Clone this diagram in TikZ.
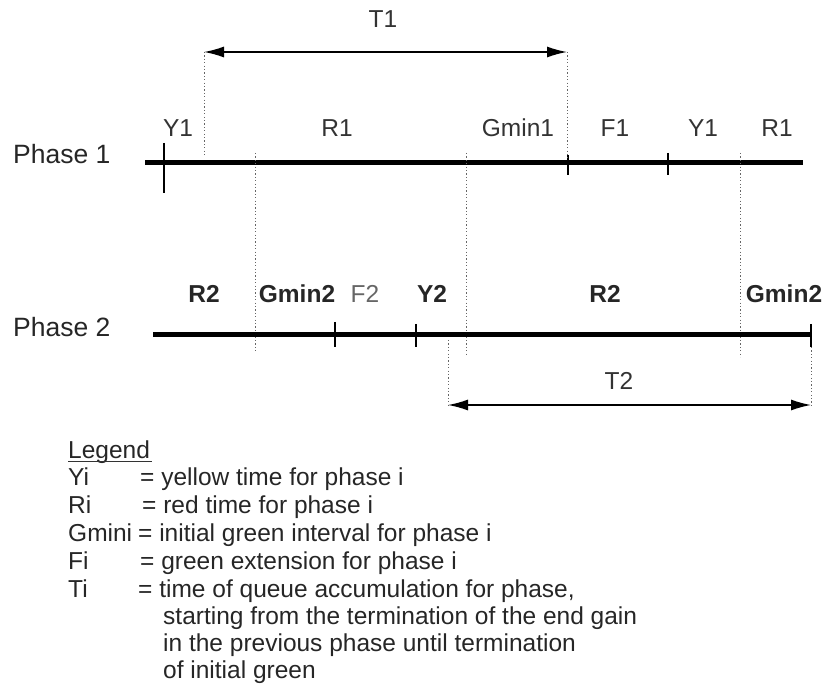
\documentclass[tikz,border=0pt]{standalone}
\usepackage{fontspec}
\setmainfont{Liberation Sans}
\usetikzlibrary{arrows.meta}
\begin{document}
\begin{tikzpicture}[x=1pt,y=-1pt,
  lbl/.style={font=\fontsize{24.5}{28}\selectfont, inner sep=0pt, anchor=base, text=black!80},
  blbl/.style={lbl, font=\fontsize{24.5}{28}\selectfont\bfseries, text=black!85},
  phase/.style={font=\fontsize{26.5}{30}\selectfont, inner sep=0pt, anchor=base west, text=black!85},
  leg/.style={font=\fontsize{24.5}{28}\selectfont, inner sep=0pt, anchor=base west, text=black!85},
  axis/.style={line width=5pt, black},
  tick/.style={line width=1.6pt, black},
  guide/.style={line width=1pt, black!60, dash pattern=on 1.2pt off 2.2pt},
  uline/.style={line width=1.2pt, black!80},
  span/.style={line width=1.4pt, black, {Latex[length=20pt,width=11pt]}-{Latex[length=20pt,width=11pt]}}]
\useasboundingbox (0,0) rectangle (823,687);

% ---- Phase 1 ----
\coordinate (p1s) at (145,163);
\coordinate (p1e) at (803,163);
\draw[axis] (p1s) -- (p1e);
\node[phase] (ph1) at (13,164) {Phase 1};
\coordinate (t1a) at (164,143); \coordinate (t1b) at (164,193);
\draw[tick] (t1a) -- (t1b);
\coordinate (t2a) at (568,155); \coordinate (t2b) at (568,175);
\draw[tick] (t2a) -- (t2b);
\coordinate (t3a) at (668,153); \coordinate (t3b) at (668,175);
\draw[tick] (t3a) -- (t3b);

\node[lbl] (y1a) at (178,137) {Y1};
\node[lbl] (r1a) at (337,137) {R1};
\node[lbl] (g1) at (518,137) {Gmin1};
\node[lbl] (f1) at (615,137) {F1};
\node[lbl] (y1b) at (703,137) {Y1};
\node[lbl] (r1b) at (777,137) {R1};

% T1
\coordinate (T1l) at (204,52);
\coordinate (T1r) at (567,52);
\coordinate (T1lb) at (204,156);
\coordinate (T1rb) at (567,158);
\draw[guide] (T1l) -- (T1lb);
\draw[guide] (T1r) -- (T1rb);
\draw[span] (T1l) -- (T1r);
\node[lbl] (T1) at (383,28) {T1};

% vertical guides linking both phases
\coordinate (g1a) at (255,153); \coordinate (g1b) at (255,353);
\coordinate (g2a) at (466,153); \coordinate (g2b) at (466,355);
\coordinate (g3a) at (740,153); \coordinate (g3b) at (740,357);
\draw[guide] (g1a) -- (g1b);
\draw[guide] (g2a) -- (g2b);
\draw[guide] (g3a) -- (g3b);

% ---- Phase 2 ----
\coordinate (p2s) at (153,335);
\coordinate (p2e) at (811,335);
\draw[axis] (p2s) -- (p2e);
\node[phase] (ph2) at (13,337) {Phase 2};
\coordinate (u1a) at (335,322); \coordinate (u1b) at (335,347);
\draw[tick] (u1a) -- (u1b);
\coordinate (u2a) at (416,324); \coordinate (u2b) at (416,347);
\draw[tick] (u2a) -- (u2b);
\coordinate (u3a) at (811,324); \coordinate (u3b) at (811,347);
\draw[tick] (u3a) -- (u3b);

\node[blbl] (r2a) at (204,303) {R2};
\node[blbl] (g2x) at (297,303) {Gmin2};
\node[lbl, text=black!60] (f2) at (365,303) {F2};
\node[blbl] (y2) at (432,303) {Y2};
\node[blbl] (r2b) at (605,303) {R2};
\node[blbl] (g2y) at (784,303) {Gmin2};

% T2
\coordinate (T2l) at (448,405);
\coordinate (T2r) at (811,405);
\coordinate (T2lt) at (448,340);
\coordinate (T2rt) at (811,347);
\draw[guide] (T2lt) -- (T2l);
\draw[guide] (T2rt) -- (T2r);
\draw[span] (T2l) -- (T2r);
\node[lbl] (T2) at (619,390) {T2};

% ---- Legend ----
\node[leg] (lg) at (68,458) {Legend};
\coordinate (ula) at (68,461.5); \coordinate (ulb) at (152,461.5);
\draw[uline] (ula) -- (ulb);
\node[leg] (k1) at (68,485) {Yi};
\node[leg] (v1) at (140,485) {= yellow time for phase i};
\node[leg] (k2) at (68,513) {Ri};
\node[leg] (v2) at (142,513) {= red time for phase i};
\node[leg] (k3) at (68,541) {Gmini};
\node[leg] (v3) at (138,541) {= initial green interval for phase i};
\node[leg] (k4) at (68,569) {Fi};
\node[leg] (v4) at (140,569) {= green extension for phase i};
\node[leg] (k5) at (68,597) {Ti};
\node[leg] (v5) at (138,597) {= time of queue accumulation for phase,};
\node[leg] (v6) at (163,624) {starting from the termination of the end gain};
\node[leg] (v7) at (163,651) {in the previous phase until termination};
\node[leg] (v8) at (163,678) {of initial green};
\end{tikzpicture}
\end{document}
